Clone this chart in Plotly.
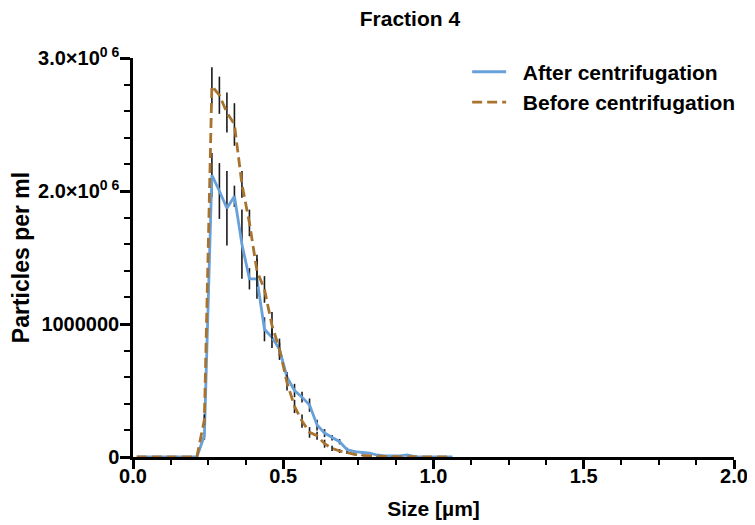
import plotly.graph_objects as go

# bin centres (µm)
size_um = [round(0.0125 + 0.025 * k, 4) for k in range(43)]

# After centrifugation (particles/ml, in millions)
after_vals = [0, 0, 0, 0, 0, 0, 0, 0, 0.0, 0.16,
              2.12, 2.00, 1.87, 1.96, 1.60, 1.34, 1.34, 0.96, 0.90, 0.81,
              0.60, 0.50, 0.45, 0.39, 0.24, 0.18, 0.145, 0.115, 0.055, 0.04,
              0.035, 0.03, 0.015, 0.008, 0.008, 0.008, 0.015, 0.003, 0, 0,
              0, 0, 0]
after_err = [0, 0, 0, 0, 0, 0, 0, 0, 0, 0.03,
             0.165, 0.21, 0.28, 0.08, 0.26, 0.08, 0.15, 0.09, 0.08, 0.05,
             0.04, 0.05, 0.04, 0.05, 0.04, 0.03, 0.02, 0.02, 0.015, 0.01,
             0.01, 0.008, 0.005, 0.004, 0.004, 0.004, 0.004, 0, 0, 0,
             0, 0, 0]

# Before centrifugation (particles/ml, in millions)
before_vals = [0, 0, 0, 0, 0, 0, 0, 0, 0.0, 0.28,
               2.79, 2.72, 2.59, 2.50, 2.05, 1.76, 1.40, 1.26, 0.99, 0.81,
               0.56, 0.38, 0.27, 0.185, 0.16, 0.10, 0.065, 0.045, 0.032, 0.02,
               0.012, 0.008, 0.005, 0.004, 0.003, 0.002, 0.002, 0.001, 0, 0,
               0, 0, 0]
before_err = [0, 0, 0, 0, 0, 0, 0, 0, 0, 0.04,
              0.14, 0.14, 0.15, 0.16, 0.10, 0.10, 0.12, 0.10, 0.10, 0.08,
              0.06, 0.05, 0.05, 0.04, 0.03, 0.03, 0.02, 0.015, 0.01, 0.008,
              0.005, 0.004, 0.003, 0.002, 0.002, 0, 0, 0, 0, 0,
              0, 0, 0]

y_tick_vals = [0, 1e6, 2e6, 3e6]
y_tick_text = ["<b>0</b>", "<b>1000000</b>", "<b>2.0×10<sup>0 6</sup></b>", "<b>3.0×10<sup>0 6</sup></b>"]
x_tick_vals = [0, 0.5, 1.0, 1.5, 2.0]
x_tick_text = ["<b>0.0</b>", "<b>0.5</b>", "<b>1.0</b>", "<b>1.5</b>", "<b>2.0</b>"]

M = 1e6
FONT = "Liberation Sans, Arial, sans-serif"
BLUE = "#68A0DA"
BROWN = "#A8732E"

fig = go.Figure()
fig.add_trace(go.Scatter(
    x=size_um, y=[v * M for v in after_vals], mode="lines",
    name="&nbsp;&nbsp;<b>After centrifugation</b>",
    line=dict(color=BLUE, width=2.8),
    error_y=dict(type="data", array=[e * M for e in after_err], color="#1a1a1a",
                 thickness=1.6, width=0),
))
fig.add_trace(go.Scatter(
    x=size_um, y=[v * M for v in before_vals], mode="lines",
    name="&nbsp;&nbsp;<b>Before centrifugation</b>",
    line=dict(color=BROWN, width=2.8, dash="10px,5px"),
    error_y=dict(type="data", array=[e * M for e in before_err], color="#1a1a1a",
                 thickness=1.6, width=0),
))

# page body adds an 8px offset, so the figure is sized 747x517
fig.update_layout(
    width=747, height=517,
    margin=dict(l=125, r=21, t=50, b=68, autoexpand=False),
    paper_bgcolor="white", plot_bgcolor="white",
    font=dict(family=FONT, color="black", size=20),
    title=dict(text="<b>Fraction 4</b>", x=0.538, xanchor="center",
               y=0.979, yanchor="middle", yref="container",
               font=dict(size=21, family=FONT)),
    showlegend=True,
    legend=dict(x=0.556, y=1.016, xanchor="left", yanchor="top",
                font=dict(size=21, family=FONT), bgcolor="rgba(0,0,0,0)",
                tracegroupgap=0, itemwidth=34),
)
fig.update_xaxes(
    range=[0, 2], showgrid=False, zeroline=False, automargin=False,
    showline=True, linecolor="black", linewidth=2.5,
    tickmode="array", tickvals=x_tick_vals, ticktext=x_tick_text,
    ticks="outside", ticklen=9, tickwidth=2.5, tickcolor="black",
    tickfont=dict(size=20, family=FONT), ticklabelstandoff=-10,
    minor=dict(tickmode="linear", tick0=0, dtick=0.125, ticks="outside",
               ticklen=5, tickwidth=2, tickcolor="black", showgrid=False),
    title=dict(text="<b>Size [µm]</b>", font=dict(size=21, family=FONT), standoff=16),
)
fig.update_yaxes(
    range=[0, 3e6], showgrid=False, zeroline=False, automargin=False,
    showline=True, linecolor="black", linewidth=2.5,
    tickmode="array", tickvals=y_tick_vals, ticktext=y_tick_text,
    ticks="outside", ticklen=10, tickwidth=2.5, tickcolor="black",
    tickfont=dict(size=20, family=FONT), ticklabelstandoff=-3,
    minor=dict(tickmode="linear", tick0=0, dtick=2e5, ticks="outside",
               ticklen=6, tickwidth=2, tickcolor="black", showgrid=False),
    title=dict(text="<b>Particles per ml</b>", font=dict(size=23, family=FONT), standoff=8),
)

fig.write_html("out.html")
